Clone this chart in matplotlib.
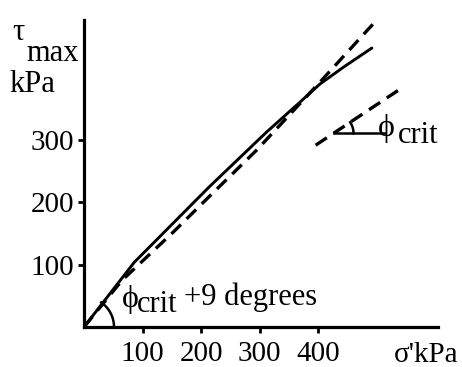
import numpy as np
import matplotlib
matplotlib.use("Agg")
import matplotlib.pyplot as plt

plt.rcParams["font.family"] = ["Liberation Serif", "DejaVu Serif"]

# measured curve (solid) and two straight envelopes (dashed)
sigma_meas = [0, 86, 214, 312, 369, 403, 443, 492]
tau_meas = [0, 104, 225, 313, 361, 390, 417, 448]

sigma_peak = [0, 65, 151, 220, 295, 403, 511]
tau_peak = [0, 75, 151, 215, 284, 393, 504]

sigma_crit = [396, 545]
tau_crit = [292, 385]

x_ticks = [100, 200, 300, 400]
y_ticks = [100, 200, 300]

W, H = 462, 367
fig = plt.figure(figsize=(W / 100, H / 100), dpi=100)
ax = fig.add_axes([84 / W, 1 - 327 / H, (438 - 84) / W, (327 - 20) / H])
ax.set_xlim(0, 605)
ax.set_ylim(0, 493)

for s in ["top", "right"]:
    ax.spines[s].set_visible(False)
for s in ["left", "bottom"]:
    ax.spines[s].set_linewidth(2.3)

ax.set_xticks(x_ticks)
ax.set_yticks(y_ticks)
ax.tick_params(direction="out", length=4, width=2, labelsize=21)
ax.tick_params(axis="x", pad=6)
ax.tick_params(axis="y", pad=3)

ax.plot(sigma_meas, tau_meas, color="black", lw=2.1, solid_capstyle="round")
dash = (0, (4, 2.4))
ax.plot(sigma_peak, tau_peak, color="black", lw=2.4, linestyle=dash)
ax.plot(sigma_crit, tau_crit, color="black", lw=2.4, linestyle=dash)

# helper: pixel -> data
inv = ax.transData.inverted()


def arc_pts(vx, vy, r_px, a0, a1):
    cx, cy = ax.transData.transform((vx, vy))
    t = np.radians(np.linspace(a0, a1, 30))
    pts = np.column_stack([cx + r_px * np.cos(t), cy + r_px * np.sin(t)])
    return inv.transform(pts)


# angle at the origin
p = arc_pts(0, 0, 30, 0, 55)
ax.plot(p[:, 0], p[:, 1], color="black", lw=1.8)

# critical-state angle marker
slope = (tau_crit[1] - tau_crit[0]) / (sigma_crit[1] - sigma_crit[0])
vy = 311
vx = sigma_crit[0] + (vy - tau_crit[0]) / slope
ax.plot([vx, 515], [vy, vy], color="black", lw=1.8)
p0 = ax.transData.transform((vx, vy))
p1 = ax.transData.transform((sigma_crit[1], tau_crit[1]))
ang = np.degrees(np.arctan2(p1[1] - p0[1], p1[0] - p0[0]))
p = arc_pts(vx, vy, 20, 0, ang)
ax.plot(p[:, 0], p[:, 1], color="black", lw=1.8)


def px(x, y):
    return x / W, 1 - y / H


fs = 21
fig.text(*px(12, 40), "τ", fontsize=fs + 1, va="baseline")
fig.text(*px(26, 61), "max", fontsize=fs + 1, va="baseline")
fig.text(*px(9, 92), "kPa", fontsize=fs + 1, va="baseline")
fig.text(*px(394, 362), "σ'kPa", fontsize=fs, va="baseline")

fig.text(*px(378, 128), "ϕ", fontsize=fs + 2, va="center")
fig.text(*px(398, 143), "crit", fontsize=fs + 1, va="baseline")

fig.text(*px(122, 299), "ϕ", fontsize=fs + 2, va="center")
fig.text(*px(137, 312), "crit", fontsize=fs + 1, va="baseline")
fig.text(*px(184, 305), "+9 degrees", fontsize=fs + 1, va="baseline")

fig.savefig("out.png", dpi=100)
